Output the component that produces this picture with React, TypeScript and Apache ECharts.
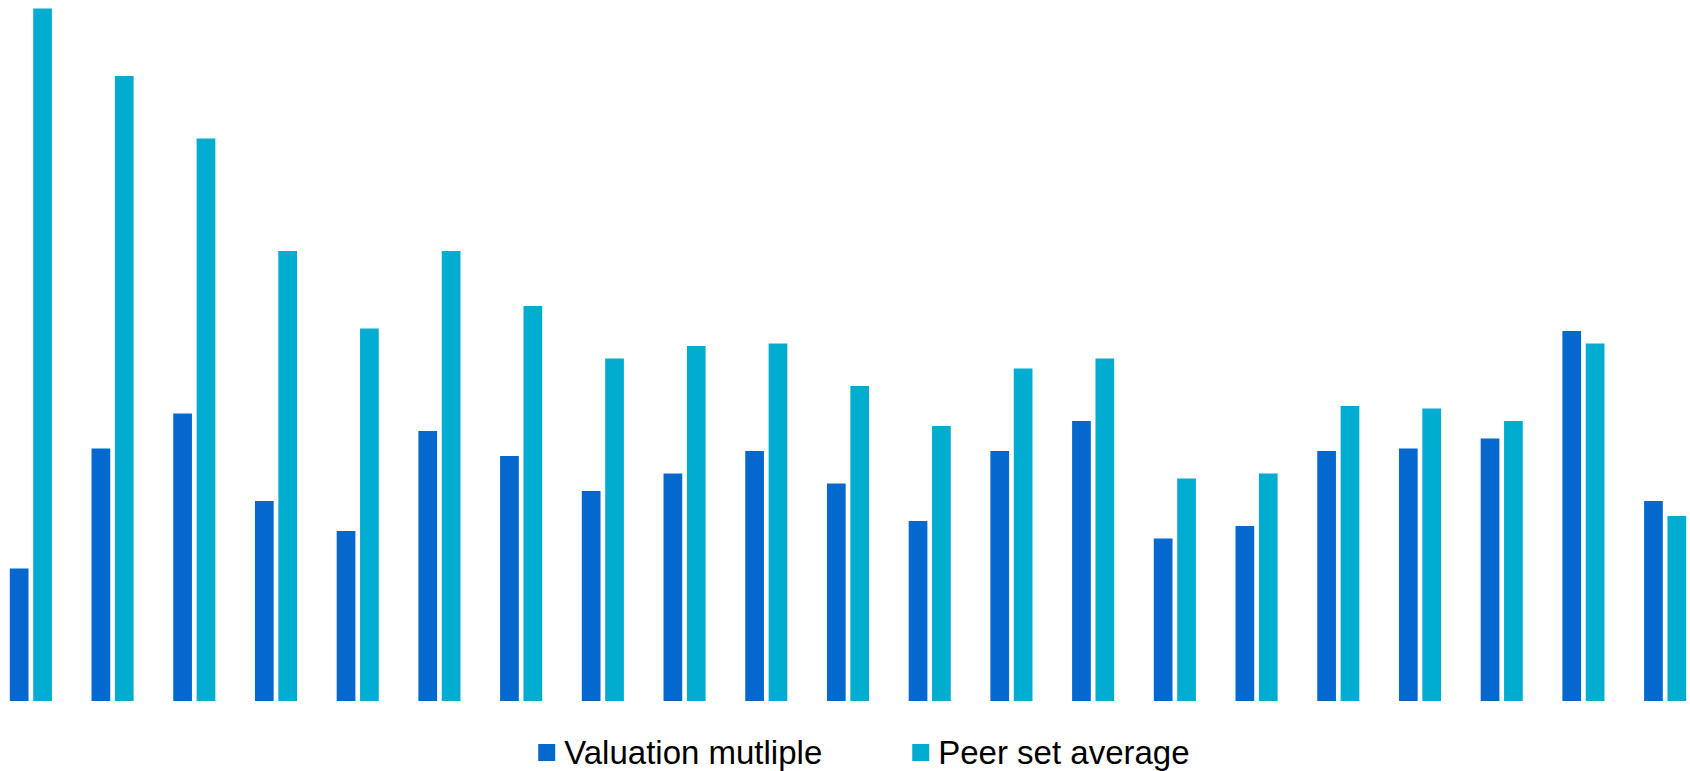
import React, { useEffect, useRef } from "react";
import * as echarts from "echarts";

// Companies compared (axis labels are hidden)
const categories: string[] = [
  "Co 1", "Co 2", "Co 3", "Co 4", "Co 5", "Co 6", "Co 7",
  "Co 8", "Co 9", "Co 10", "Co 11", "Co 12", "Co 13", "Co 14",
  "Co 15", "Co 16", "Co 17", "Co 18", "Co 19", "Co 20", "Co 21",
];

// Company valuation multiple (x)
const valuationMultiple: number[] = [
  5.3, 10.1, 11.5, 8.0, 6.8, 10.8, 9.8, 8.4, 9.1, 10.0, 8.7,
  7.2, 10.0, 11.2, 6.5, 7.0, 10.0, 10.1, 10.5, 14.8, 8.0,
];

// Average multiple of the peer set (x)
const peerSetAverage: number[] = [
  27.7, 25.0, 22.5, 18.0, 14.9, 18.0, 15.8, 13.7, 14.2, 14.3, 12.6,
  11.0, 13.3, 13.7, 8.9, 9.1, 11.8, 11.7, 11.2, 14.3, 7.4,
];

const seriesNames: string[] = ["Valuation mutliple", "Peer set average"];

const DARK_BLUE = "#0468CE";
const TEAL = "#00ACD0";
const FONT = "'Liberation Sans', Arial, sans-serif";

// The plot is slightly wider than the visible frame: the outer category
// bands bleed past the left and right edges.
const BLEED_LEFT = 10.2;
const PLOT_WIDTH = 1716.1;

export default function App() {
  const ref = useRef<HTMLDivElement>(null);

  useEffect(() => {
    if (!ref.current) return;
    const chart = echarts.init(ref.current, undefined, { renderer: "svg" });
    chart.setOption({
      animation: false,
      backgroundColor: "#ffffff",
      textStyle: { fontFamily: FONT },
      grid: { left: 0, right: 0, top: 1, bottom: 70, containLabel: false },
      legend: {
        data: seriesNames,
        left: 538 + BLEED_LEFT,
        top: 736,
        padding: 0,
        itemWidth: 17,
        itemHeight: 17,
        itemGap: 90,
        icon: "rect",
        textStyle: {
          fontFamily: FONT,
          fontSize: 33,
          color: "#000000",
          padding: [0, 0, 0, 4],
        },
      },
      xAxis: {
        type: "category",
        data: categories,
        axisLine: { show: false },
        axisTick: { show: false },
        axisLabel: { show: false },
        splitLine: { show: false },
      },
      yAxis: {
        type: "value",
        min: 0,
        max: 28,
        show: false,
        splitLine: { show: false },
      },
      series: [
        {
          name: seriesNames[0],
          type: "bar",
          data: valuationMultiple,
          barWidth: 18.7,
          barGap: "25%",
          itemStyle: { color: DARK_BLUE },
        },
        {
          name: seriesNames[1],
          type: "bar",
          data: peerSetAverage,
          barWidth: 18.7,
          barGap: "25%",
          itemStyle: { color: TEAL },
        },
      ],
    });
    return () => chart.dispose();
  }, []);

  return (
    <div
      style={{
        position: "absolute",
        left: 0,
        top: 0,
        width: 1690,
        height: 771,
        overflow: "hidden",
        background: "#ffffff",
      }}
    >
      <div
        ref={ref}
        style={{
          position: "absolute",
          left: -BLEED_LEFT,
          top: 0,
          width: PLOT_WIDTH,
          height: 771,
        }}
      />
    </div>
  );
}
